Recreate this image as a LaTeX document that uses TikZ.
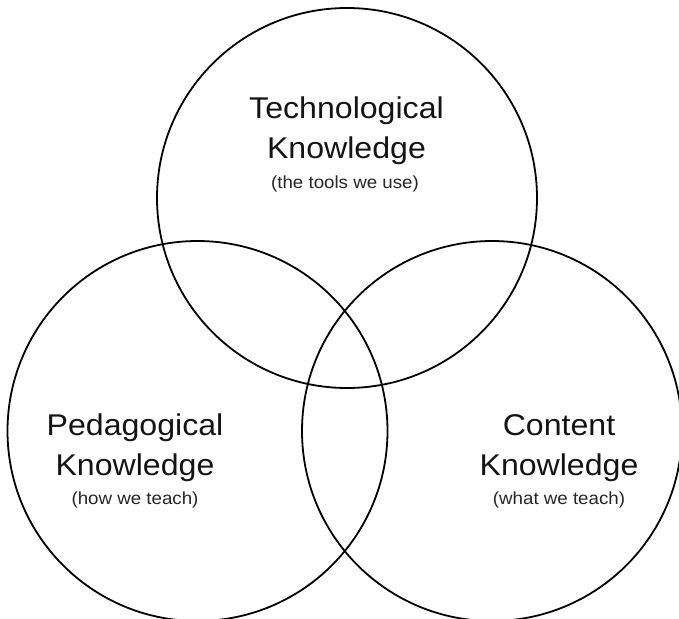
\documentclass[tikz,border=0pt]{standalone}
\usepackage{fontspec}
\setmainfont{Liberation Sans}[FakeStretch=1.07]
\begin{document}
\begin{tikzpicture}[x=1pt,y=-1pt,
  ring/.style={draw=black,line width=1.8pt,circle,minimum size=380pt,inner sep=0pt},
  bigtext/.style={anchor=base,inner sep=0pt,text=black!92,font=\fontsize{30}{36}\selectfont},
  smalltext/.style={anchor=base,inner sep=0pt,text=black!85,font=\fontsize{17.5}{21}\selectfont}]
\useasboundingbox (0,0) rectangle (679,618);
\clip (0,0) rectangle (679,618);
\fill[white] (0,0) rectangle (679,618);
\node[ring] (tech) at (347,198) {};
\node[ring] (peda) at (197.5,431) {};
\node[ring] (cont) at (492,431) {};
\node[bigtext] (t1) at (346.5,118.5) {Technological};
\node[bigtext] (t2) at (346.5,158.5) {Knowledge};
\node[smalltext] (t3) at (345,188.5) {(the tools we use)};
\node[bigtext] (p1) at (135,435.5) {Pedagogical};
\node[bigtext] (p2) at (135,475) {Knowledge};
\node[smalltext] (p3) at (135,504.5) {(how we teach)};
\node[bigtext] (c1) at (559,435.5) {Content};
\node[bigtext] (c2) at (559,475) {Knowledge};
\node[smalltext] (c3) at (559,504.5) {(what we teach)};
\end{tikzpicture}
\end{document}
